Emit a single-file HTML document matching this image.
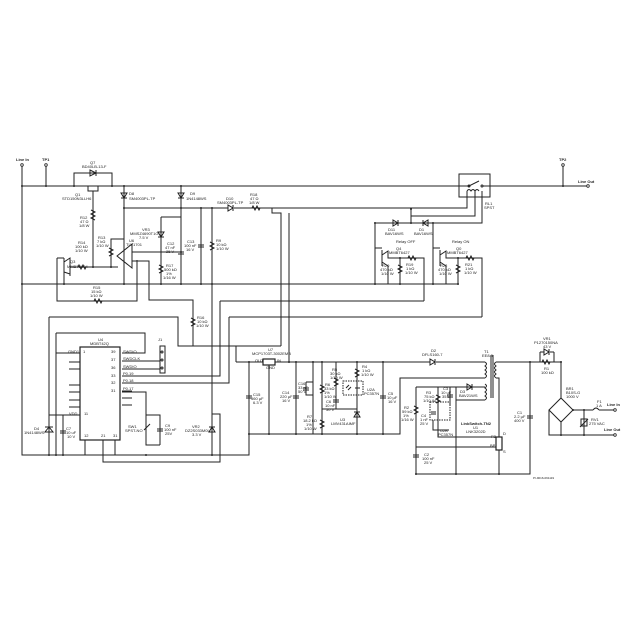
<!DOCTYPE html>
<html><head><meta charset="utf-8"><style>
html,body{margin:0;padding:0;background:#fff;}
svg{display:block;}
text{font-family:"Liberation Sans",sans-serif;font-size:4px;fill:#222;}
.b{font-weight:bold;}
</style></head><body>
<svg width="640" height="640" viewBox="0 0 640 640" xmlns="http://www.w3.org/2000/svg">
<g stroke="#222" stroke-width="1" fill="none">
<path d="M22,165 V455 H249 V434"/>
<path d="M46,165 V186"/>
<path d="M22,186 H466"/>
<path d="M490,186 H588"/>
<path d="M563,165 V186"/>
<path d="M74,186 V173 H112 V186"/>
<path d="M90,170 L96,173 L90,176 Z M96,170 V176"/>
<path d="M88,186 V191 H98 V186 M93,191 V267"/>
<path d="M91,210 l4,2 l-4,2 l4,2 l-4,2 l4,2"/>
<path d="M57,258 H64 M64,258 V276 M64,262 L70,258 V276 M64,272 L70,274"/>
<path d="M57,258 V301 H137 V260"/>
<path d="M70,267 H118"/>
<path d="M64,276 V284"/>
<path d="M78,267 l1,-2 l2,4 l2,-4 l2,4 l1,-2"/>
<path d="M94,301 l1,-2 l2,4 l2,-4 l2,4 l1,-2"/>
<path d="M111,267 V239 H124"/>
<path d="M109,248 l4,2 l-4,2 l4,2 l-4,2"/>
<path d="M124,186 V284"/>
<path d="M121,193 h6 l-3,5 z M121,198 h6"/>
<path d="M124,208 H228 M234,208 H467 V197"/>
<path d="M228,205 v6 l5,-3 z M233,205 v6"/>
<path d="M252,208 l1,-2 l2,4 l2,-4 l2,4 l1,-2"/>
<path d="M132,244 L117,256 L132,268 Z"/>
<path d="M132,252 H181"/>
<path d="M132,261 H149 V300 H193 V346"/>
<path d="M191,318 l4,2 l-4,2 l4,2 l-4,2"/>
<path d="M181,186 V284"/>
<path d="M178,193 h6 l-3,5 z M178,198 h6"/>
<path d="M178,252 h6 M178,254 h6"/>
<path d="M161,217 H181 M161,217 V284"/>
<path d="M158,232 h6 l-3,5 z M158,237 h6"/>
<path d="M159,265 l4,2 l-4,2 l4,2 l-4,2"/>
<path d="M201,208 V284 M198,245 h6 M198,247 h6"/>
<path d="M212,208 V455"/>
<path d="M210,242 l4,2 l-4,2 l4,2 l-4,2"/>
<path d="M22,284 H458"/>
<path d="M272,208 V213 H281 V346 M289,213 V362"/>
<rect x="459" y="174" width="31" height="23"/>
<path d="M466,186 h3 l10,-5 M483,186 h7"/>
<circle cx="469" cy="186" r="1"/><circle cx="482" cy="186" r="1"/>
<path d="M467,197 V191 M475,197 V191 M482,197 V191 M467,191 q2,-3 4,0 q2,-3 4,0 q2,-3 4,0"/>
<path d="M475,197 V216 H411 V223"/>
<path d="M482,197 V223 H375 V284"/>
<path d="M411,209 V216"/>
<path d="M393,220 v6 l5,-3 z M398,220 v6"/>
<path d="M428,220 v6 l-5,-3 z M423,220 v6"/>
<path d="M433,223 V284"/>
<path d="M375,248 H382 M382,250 V266 M382,255 L388,251 V258 H424 V301 M382,262 L388,266 V284"/>
<path d="M400,258 V284 M398,265 l4,2 l-4,2 l4,2 l-4,2"/>
<path d="M408,258 l1,-2 l2,4 l2,-4 l2,4 l1,-2"/>
<path d="M433,248 H440 M440,250 V266 M440,255 L446,251 V258 H482 V317 M440,262 L446,266 V284"/>
<path d="M458,258 V284 M456,265 l4,2 l-4,2 l4,2 l-4,2"/>
<path d="M466,258 l1,-2 l2,4 l2,-4 l2,4 l1,-2"/>
<path d="M220,301 H424 M220,301 V376 H122"/>
<path d="M229,317 H482 M229,317 V383 H122"/>
<path d="M49,317 H178 V346 H281"/>
<path d="M56,333 H145 V353 H122"/>
<path d="M236,346 V362"/>
<rect x="80" y="347" width="40" height="93" stroke-width="1.2"/>
<path d="M56,353 H80 M69,362 H80 M69,369 H80 M69,385 H80 M69,392 H80 M69,400 H80 M69,407 H80 M49,415 H80"/>
<path d="M122,353 H145 M122,361 H160 M122,369 H160 M122,391 H132 M122,398 H132 M122,405 H132"/>
<path d="M122,392 H146 V445 H160"/>
<path d="M49,317 V455 M56,333 V455 M63,415 V455"/>
<path d="M45,432 h8 l-4,-5 z M45,427 h8"/>
<path d="M60,431 h6 M60,433 h6"/>
<path d="M85,440 V455 M103,440 V462 H220 V414 H212 M115,440 V455"/>
<rect x="160" y="346" width="5" height="27"/>
<circle cx="162" cy="352" r="1"/><circle cx="162" cy="360" r="1"/><circle cx="162" cy="368" r="1"/>
<path d="M146,415 H160 V445 M146,424 V428 M144,430 L150,424 M157,429 h6 M157,431 h6"/>
<path d="M212,414 V455 M209,432 h6 l-3,-5 z M209,427 h6"/>
<path d="M236,362 H263 M275,362 H430 M436,362 H485"/>
<rect x="263" y="359" width="12" height="6" stroke-width="1.2"/>
<path d="M269,365 V434"/>
<path d="M249,362 V434 M246,396 h6 M246,398 h6"/>
<path d="M249,434 H400 V378 H485"/>
<path d="M296,362 V434 M293,396 h6 M293,398 h6"/>
<path d="M313,362 V434 M306,382 H313 M306,382 V395 H313 M303,388 h6 M303,390 h6"/>
<path d="M322,362 V434 M320,385 l4,2 l-4,2 l4,2 l-4,2 M320,420 l4,2 l-4,2 l4,2 l-4,2"/>
<path d="M322,409 H357 M336,362 V409 M334,378 l4,2 l-4,2 l4,2 l-4,2 M333,400 h6 M333,402 h6"/>
<path d="M357,362 V434 M355,369 l4,2 l-4,2 l4,2 l-4,2 M354,417 h6 l-3,-5 z M354,412 h6"/>
<rect x="343" y="381" width="20" height="14" stroke-dasharray="1.5,1"/>
<path d="M346,388 l3,-3 M348,390 l3,-3 M357,385 v6 M355,388 h5"/>
<path d="M383,362 V434 M380,396 h6 M380,398 h6"/>
<path d="M430,359 v6 l5,-3 z M435,359 v6"/>
<path d="M485,362 q3,2 0,4 q3,2 0,4 q3,2 0,4 q3,2 0,4"/>
<path d="M491,355 V398 M493,355 V398"/>
<path d="M496,362 q-3,2 0,4 q-3,2 0,4 q-3,2 0,4 q-3,2 0,4 M496,378 H499 V437"/>
<path d="M496,362 H530"/>
<path d="M485,384 q3,2 0,4 q3,2 0,4 q3,2 0,4 q3,2 0,4"/>
<path d="M416,387 H485 M456,387 V474 M485,400 H456"/>
<path d="M467,384 v6 l5,-3 z M472,384 v6"/>
<path d="M416,387 V474 M414,406 l4,2 l-4,2 l4,2 l-4,2 M413,455 h6 M413,457 h6"/>
<path d="M438,387 V437 H496 M436,395 l4,2 l-4,2 l4,2 l-4,2 M450,387 V405 M447,395 h6 M447,397 h6"/>
<rect x="430" y="402" width="20" height="18" stroke-dasharray="1.5,1"/>
<path d="M433,420 V430 H449 M431,412 h5 M431,414 h5"/>
<path d="M416,447 H496"/>
<rect x="496" y="437" width="6" height="13" stroke-width="1.2"/>
<path d="M499,450 V474 H416 M499,474 H530 V362"/>
<path d="M527,416 h6 M527,418 h6"/>
<path d="M530,362 H561 M540,352 V362 M554,352 V362 M540,352 H544 M550,352 H554 M544,349 v6 l5,-3 z M549,349 v6"/>
<path d="M542,362 l1,-2 l2,4 l2,-4 l2,4 l1,-2"/>
<path d="M561,362 V398"/>
<path d="M561,398 L573,410 L561,422 L549,410 Z"/>
<path d="M549,410 V435 H615 M561,422 V435"/>
<path d="M573,410 H593 M599,410 H615 M593,410 q3,-4 6,0"/>
<path d="M584,410 V435 M581,419 h6 v7 h-6 z M580,427 l8,-8"/>
</g>
<g fill="#222">
<circle cx="22" cy="165" r="1.3" fill="#fff" stroke="#222" stroke-width="0.8"/>
<circle cx="46" cy="165" r="1.3" fill="#fff" stroke="#222" stroke-width="0.8"/>
<circle cx="563" cy="165" r="1.3" fill="#fff" stroke="#222" stroke-width="0.8"/>
<circle cx="588" cy="186" r="1.3" fill="#fff" stroke="#222" stroke-width="0.8"/>
<circle cx="615" cy="410" r="1.3" fill="#fff" stroke="#222" stroke-width="0.8"/>
<circle cx="615" cy="435" r="1.3" fill="#fff" stroke="#222" stroke-width="0.8"/>
<circle cx="22" cy="186" r="1"/><circle cx="46" cy="186" r="1"/><circle cx="74" cy="186" r="1"/><circle cx="112" cy="186" r="1"/><circle cx="124" cy="186" r="1"/><circle cx="181" cy="186" r="1"/><circle cx="563" cy="186" r="1"/>
<circle cx="124" cy="208" r="1"/><circle cx="181" cy="208" r="1"/><circle cx="201" cy="208" r="1"/><circle cx="212" cy="208" r="1"/><circle cx="411" cy="209" r="1"/>
<circle cx="22" cy="284" r="1"/><circle cx="64" cy="284" r="1"/><circle cx="124" cy="284" r="1"/><circle cx="161" cy="284" r="1"/><circle cx="181" cy="284" r="1"/><circle cx="201" cy="284" r="1"/><circle cx="212" cy="284" r="1"/><circle cx="375" cy="284" r="1"/><circle cx="400" cy="284" r="1"/><circle cx="433" cy="284" r="1"/><circle cx="458" cy="284" r="1"/>
<circle cx="93" cy="267" r="1"/><circle cx="111" cy="267" r="1"/><circle cx="181" cy="252" r="1"/>
<circle cx="375" cy="223" r="1"/><circle cx="411" cy="223" r="1"/><circle cx="433" cy="223" r="1"/>
<circle cx="400" cy="258" r="1"/><circle cx="458" cy="258" r="1"/>
<circle cx="249" cy="362" r="1"/><circle cx="289" cy="362" r="1"/><circle cx="296" cy="362" r="1"/><circle cx="313" cy="362" r="1"/><circle cx="322" cy="362" r="1"/><circle cx="357" cy="362" r="1"/><circle cx="383" cy="362" r="1"/><circle cx="530" cy="362" r="1"/><circle cx="561" cy="362" r="1"/>
<circle cx="249" cy="434" r="1"/><circle cx="269" cy="434" r="1"/><circle cx="296" cy="434" r="1"/><circle cx="322" cy="434" r="1"/><circle cx="357" cy="434" r="1"/><circle cx="383" cy="434" r="1"/>
<circle cx="49" cy="455" r="1"/><circle cx="56" cy="455" r="1"/><circle cx="63" cy="455" r="1"/><circle cx="146" cy="455" r="1"/><circle cx="212" cy="455" r="1"/>
<circle cx="416" cy="474" r="1"/><circle cx="456" cy="474" r="1"/><circle cx="499" cy="474" r="1"/>
<circle cx="573" cy="410" r="1"/><circle cx="584" cy="410" r="1"/><circle cx="584" cy="435" r="1"/><circle cx="561" cy="435" r="1"/>
</g>
<g>
<text x="16" y="161" class="b">Line In</text>
<text x="42" y="161" class="b">TP1</text>
<text x="559" y="161" class="b">TP2</text>
<text x="578" y="183" class="b">Line Out</text>
<text x="90" y="164">Q7</text><text x="82" y="168">BD40LB-13-F</text>
<text x="75" y="196">Q1</text><text x="62" y="200">STD150N3LLH6</text>
<text x="129" y="195">D8</text><text x="129" y="200">SM4003PL-TP</text>
<text x="190" y="195">D9</text><text x="186" y="200">1N4148WS</text>
<text x="226" y="200">D10</text><text x="217" y="204">SM4003PL-TP</text>
<text x="250" y="196">R18</text><text x="250" y="200">47 Ω</text><text x="249" y="204">1/8 W</text>
<text x="80" y="219">R12</text><text x="80" y="223">47 Ω</text><text x="79" y="227">1/8 W</text>
<text x="98" y="239">R13</text><text x="97" y="243">7 kΩ</text><text x="96" y="247">1/10 W</text>
<text x="78" y="244">R14</text><text x="75" y="248">100 kΩ</text><text x="75" y="252">1/10 W</text>
<text x="142" y="231">VR3</text><text x="130" y="235">MMSZ4690T1G</text><text x="139" y="239">7.5 V</text>
<text x="129" y="242">U6</text><text x="126" y="246">TLV1701</text>
<text x="70" y="263">Q3</text><text x="67" y="268">MMBT3904</text>
<text x="167" y="245">C12</text><text x="165" y="249">47 nF</text><text x="166" y="253">25 V</text>
<text x="187" y="243">C13</text><text x="184" y="247">100 nF</text><text x="186" y="251">16 V</text>
<text x="216" y="242">R9</text><text x="216" y="246">10 kΩ</text><text x="216" y="250">1/10 W</text>
<text x="166" y="267">R17</text><text x="164" y="271">500 kΩ</text><text x="166" y="275">1%</text><text x="163" y="279">1/16 W</text>
<text x="93" y="289">R15</text><text x="91" y="293">15 kΩ</text><text x="90" y="297">1/10 W</text>
<text x="485" y="205">RL1</text><text x="484" y="209">SPST</text>
<text x="388" y="231">D11</text><text x="385" y="235">BAV16WS</text>
<text x="419" y="231">D1</text><text x="414" y="235">BAV16WS</text>
<text x="396" y="243">Relay OFF</text><text x="452" y="243">Relay ON</text>
<text x="396" y="250">Q4</text><text x="389" y="254">MMBT6427</text>
<text x="456" y="250">Q0</text><text x="447" y="254">MMBT6427</text>
<text x="382" y="267">R20</text><text x="380" y="271">470 kΩ</text><text x="381" y="275">1/10 W</text>
<text x="406" y="266">R19</text><text x="406" y="270">1 kΩ</text><text x="405" y="274">1/10 W</text>
<text x="440" y="267">R22</text><text x="438" y="271">470 kΩ</text><text x="439" y="275">1/10 W</text>
<text x="465" y="266">R21</text><text x="465" y="270">1 kΩ</text><text x="464" y="274">1/10 W</text>
<text x="197" y="319">R16</text><text x="197" y="323">10 kΩ</text><text x="196" y="327">1/10 W</text>
<text x="98" y="341">U4</text><text x="90" y="345">MDBT42Q</text>
<text x="158" y="341">J1</text>
<text x="68" y="353">GND1</text><text x="83" y="353">1</text>
<text x="111" y="353">39</text><text x="123" y="353">SWDIO</text>
<text x="111" y="361">37</text><text x="123" y="360">SWDCLK</text>
<text x="111" y="369">36</text><text x="123" y="368">SWDIO</text>
<text x="111" y="377">33</text><text x="123" y="375">P0.19</text>
<text x="111" y="384">32</text><text x="123" y="382">P0.18</text>
<text x="111" y="392">31</text><text x="123" y="390">P0.17</text>
<text x="69" y="415">VDD</text><text x="84" y="415">11</text>
<text x="84" y="437">12</text><text x="101" y="437">21</text><text x="113" y="437">31</text>
<text x="34" y="430">D4</text><text x="24" y="434">1N4148WS</text>
<text x="66" y="430">C7</text><text x="66" y="434">10 uF</text><text x="67" y="438">10 V</text>
<text x="128" y="428">SW1</text><text x="125" y="432">SPST-NO</text>
<text x="165" y="427">C9</text><text x="164" y="431">100 nF</text><text x="165" y="435">25V</text>
<text x="192" y="428">VR2</text><text x="185" y="432">DZ2S033M0L</text><text x="192" y="436">3.3 V</text>
<text x="268" y="351">U7</text><text x="252" y="355">MCP1703T-3002EMB</text>
<text x="255" y="362">OUT</text><text x="277" y="362">IN</text><text x="266" y="369">GND</text>
<text x="253" y="396">C15</text><text x="251" y="400">560 µF</text><text x="253" y="404">6.3 V</text>
<text x="282" y="394">C14</text><text x="280" y="398">220 µF</text><text x="282" y="402">16 V</text>
<text x="298" y="385">C16</text><text x="298" y="389">33 nF</text><text x="298" y="393">50 V</text>
<text x="325" y="386">R6</text><text x="324" y="390">33 kΩ</text><text x="324" y="394">1%</text><text x="324" y="398">1/10 W</text>
<text x="332" y="371">R5</text><text x="330" y="375">30 kΩ</text><text x="330" y="379">1/10 W</text>
<text x="362" y="368">R4</text><text x="362" y="372">1 kΩ</text><text x="361" y="376">1/10 W</text>
<text x="367" y="391">U2A</text><text x="364" y="395">PC357N</text>
<text x="326" y="403">C6</text><text x="325" y="407">10 nF</text><text x="326" y="411">50 V</text>
<text x="307" y="418">R7</text><text x="303" y="422">18.2 kΩ</text><text x="306" y="426">1%</text><text x="304" y="430">1/10 W</text>
<text x="340" y="421">U3</text><text x="331" y="425">LMV431AIMF</text>
<text x="388" y="395">C5</text><text x="387" y="399">10 µF</text><text x="388" y="403">16 V</text>
<text x="431" y="352">D2</text><text x="422" y="356">DFLS160-7</text>
<text x="484" y="353">T1</text><text x="482" y="357">EE8.3</text>
<text x="460" y="393">D3</text><text x="459" y="397">BAV21WS</text>
<text x="426" y="394">R3</text><text x="424" y="398">75 kΩ</text><text x="423" y="402">1/10 W</text>
<text x="443" y="390">C3</text><text x="441" y="394">10 uF</text><text x="442" y="398">35 V</text>
<text x="404" y="409">R2</text><text x="402" y="413">59 kΩ</text><text x="403" y="417">1%</text><text x="401" y="421">1/16 W</text>
<text x="421" y="417">C4</text><text x="420" y="421">1 nF</text><text x="420" y="425">25 V</text>
<text x="440" y="432">U2B</text><text x="438" y="436">PC357N</text>
<text x="461" y="425" class="b">LinkSwitch-TN2</text>
<text x="473" y="429">U1</text><text x="466" y="433">LNK3202D</text>
<text x="491" y="438">FB</text><text x="490" y="447">BP</text><text x="503" y="435">D</text><text x="503" y="453">S</text>
<text x="424" y="456">C2</text><text x="422" y="460">100 nF</text><text x="424" y="464">25 V</text>
<text x="517" y="414">C1</text><text x="514" y="418">2.2 µF</text><text x="514" y="422">400 V</text>
<text x="543" y="340">VR1</text><text x="534" y="344">P1270150NA</text><text x="543" y="348">43 V</text>
<text x="544" y="370">R1</text><text x="541" y="374">100 kΩ</text>
<text x="566" y="390">BR1</text><text x="566" y="394">B10S-G</text><text x="566" y="398">1000 V</text>
<text x="597" y="403">F1</text><text x="596" y="407">1 A</text>
<text x="607" y="406" class="b">Line In</text>
<text x="604" y="431" class="b">Line Out</text>
<text x="591" y="421">RV1</text><text x="589" y="425">275 VAC</text>
<text x="533" y="479" style="font-size:3px">PI-9016-091119</text>
</g>
</svg>
</body></html>
